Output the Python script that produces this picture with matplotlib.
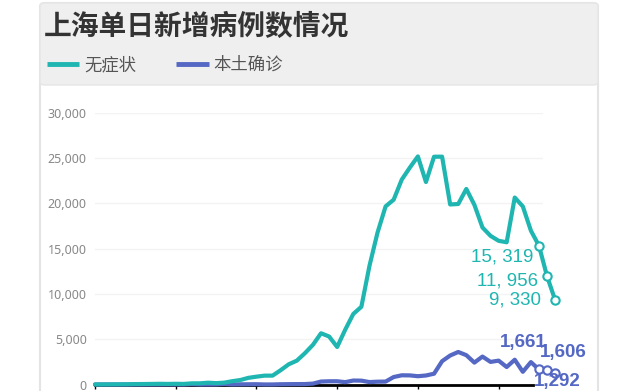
import matplotlib.pyplot as plt
from matplotlib.patches import FancyBboxPatch
from matplotlib.lines import Line2D
from matplotlib.ticker import FuncFormatter

### DATA ###

# days since 1 March (1 Mar .. 27 Apr)
days = list(range(58))

# 无症状 (asymptomatic), March then April
asym_march = [1, 5, 14, 16, 28, 45, 51, 62, 76, 64, 78, 64, 128, 130, 197, 150,
              202, 366, 492, 734, 865, 977, 979, 1580, 2231, 2631, 3450, 4381,
              5656, 5298, 4144]
asym_april = [6051, 7788, 8581, 13086, 16766, 19660, 20398, 22609, 23937, 25173,
              22348, 25141, 25146, 19872, 19923, 21582, 19831, 17332, 16407,
              15861, 15698, 20634, 19657, 16983, 15319, 11956, 9330]

# 本土确诊 (local confirmed), March then April
conf_march = [1, 3, 2, 3, 0, 3, 3, 4, 3, 11, 5, 1, 41, 5, 5, 8, 57, 8, 17, 24,
              31, 4, 4, 29, 38, 45, 50, 96, 326, 355, 358]
conf_april = [260, 438, 425, 268, 311, 322, 824, 1015, 1006, 914, 994, 1189,
              2573, 3200, 3590, 3238, 2417, 3084, 2494, 2634, 1931, 2736, 1401,
              2472, 1661, 1606, 1292]

asym = asym_march + asym_april
conf = conf_march + conf_april

title = '上海单日新增病例数情况'
series_names = ['无症状', '本土确诊']
y_ticks = [0, 5000, 10000, 15000, 20000, 25000, 30000]
x_ticks = [0, 10, 20, 30, 40, 50]

### STYLE ###

TEAL = '#1fb6b1'
BLUE = '#5468c4'
CJK = ['Noto Sans CJK SC', 'DejaVu Sans']

W, H = 640, 391

def fx(px):
  return px / W

def fy(py):
  return 1 - py / H

### FIGURE ###

fig = plt.figure(figsize=(6.4, 3.91), dpi=100)
fig.patch.set_facecolor('white')

# card outline and grey header
card = FancyBboxPatch((fx(40), fy(400)), fx(598) - fx(40), fy(3) - fy(400),
                      boxstyle='round,pad=0,rounding_size=0.008',
                      transform=fig.transFigure, facecolor='white',
                      edgecolor='#e4e4e4', linewidth=1.5, zorder=0)
fig.add_artist(card)
header = FancyBboxPatch((fx(40), fy(85)), fx(598) - fx(40), fy(3) - fy(85),
                        boxstyle='round,pad=0,rounding_size=0.008',
                        transform=fig.transFigure, facecolor='#efefef',
                        edgecolor='#e6e6e6', linewidth=1, zorder=0)
fig.add_artist(header)

fig.text(fx(44), fy(27), title, fontsize=20, fontweight='bold', color='#333333',
         family=CJK, va='center', ha='left')

handles = [Line2D([], [], color=TEAL, lw=3.5, solid_capstyle='butt'),
           Line2D([], [], color=BLUE, lw=3.5, solid_capstyle='butt')]
leg = fig.legend(handles, series_names, loc='upper left',
                 bbox_to_anchor=(fx(47), fy(56)), ncol=2, frameon=False,
                 prop={'family': CJK, 'size': 12.5}, handlelength=1.85,
                 handletextpad=0.3, columnspacing=2.3, borderpad=0,
                 borderaxespad=0)
for t in leg.get_texts():
  t.set_color('#555555')

### AXES ###

ax = fig.add_axes([fx(95), fy(384.5), fx(543) - fx(95), fy(112.7) - fy(384.5)])
ax.set_facecolor('none')
ax.set_xlim(0, 55.5)
ax.set_ylim(0, 30000)

for side in ['top', 'right', 'left']:
  ax.spines[side].set_visible(False)
ax.spines['bottom'].set_color('black')
ax.spines['bottom'].set_linewidth(2)
ax.spines['bottom'].set_bounds(0, 54.3)

ax.set_yticks(y_ticks)
ax.yaxis.set_major_formatter(FuncFormatter(lambda v, p: f'{int(v):,}'))
ax.tick_params(axis='y', length=0, pad=6, labelsize=9, labelcolor='#888888')
for lab in ax.get_yticklabels():
  lab.set_family(['Noto Sans', 'DejaVu Sans'])
ax.grid(axis='y', color='#f3f3f3', linewidth=1)

ax.set_xticks(x_ticks)
ax.set_xticklabels([])
ax.tick_params(axis='x', length=3, width=1, color='black')

# lines
ax.plot(days, conf, color=BLUE, lw=3, solid_joinstyle='round',
        solid_capstyle='round', clip_on=False, zorder=3)
ax.plot(days, asym, color=TEAL, lw=3, solid_joinstyle='round',
        solid_capstyle='round', clip_on=False, zorder=4)

# open markers on the last three days
ax.plot(days[-3:], asym[-3:], 'o', ms=6, mfc='white', mec=TEAL, mew=1.5,
        clip_on=False, zorder=5)
ax.plot(days[-3:], conf[-3:], 'o', ms=6, mfc='white', mec=BLUE, mew=1.5,
        clip_on=False, zorder=5)

# value labels
asym_offsets = [(-6, -11, 'right'), (-9, -5, 'right'), (-14, 0, 'right')]
for d, v, (dx, dy, ha) in zip(days[-3:], asym[-3:], asym_offsets):
  ax.annotate(f'{v:,}'.replace(',', ', '), (d, v), xytext=(dx, dy),
              textcoords='offset pixels', ha=ha, va='center', fontsize=13.5,
              color=TEAL, family='Liberation Sans', annotation_clip=False,
              zorder=6)

conf_offsets = [(8, 27, 'right'), (-7, 17, 'left'), (2, -9, 'center')]
for d, v, (dx, dy, ha) in zip(days[-3:], conf[-3:], conf_offsets):
  ax.annotate(f'{v:,}', (d, v), xytext=(dx, dy), textcoords='offset pixels',
              ha=ha, va='center', fontsize=13.5, fontweight='bold', color=BLUE,
              family='Liberation Sans', annotation_clip=False, zorder=6)

fig.savefig('out.png', dpi=100)
